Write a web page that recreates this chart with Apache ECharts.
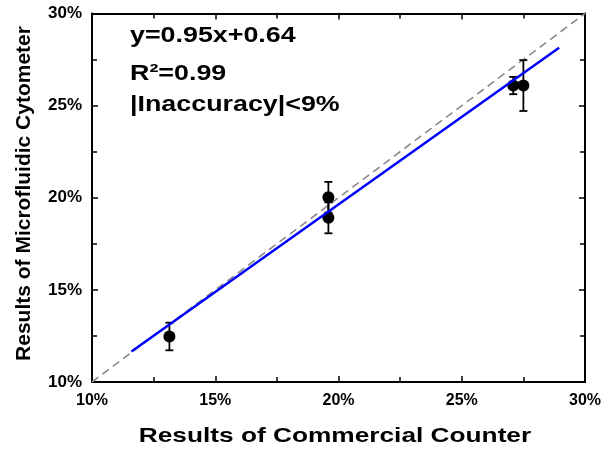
<!DOCTYPE html>
<html>
<head>
<meta charset="utf-8">
<script src="https://cdn.jsdelivr.net/npm/echarts@6/dist/echarts.min.js"></script>
<style>
  html, body { margin: 0; padding: 0; background: #fff; }
  #chart { width: 608px; height: 450px; }
</style>
</head>
<body>
<div id="chart"></div>
<script>
// Measurements: commercial counter (x) vs microfluidic cytometer (y), in percent
const counterValues   = [13.14, 19.59, 19.59, 27.09, 27.50];
const cytometerValues = [12.47, 18.91, 20.03, 26.09, 26.09];
const cytometerErrors = [0.75, 0.84, 0.83, 0.47, 1.38];

// Linear fit y = slope * x + intercept, drawn over this x range
const fitSlope = 0.95;
const fitIntercept = 0.64;
const fitRange = [11.6, 28.95];

// Identity reference line y = x
const identityLine = [[10, 10], [30, 30]];

const axisTicks = [10, 15, 20, 25, 30];
const annotationLines = ['y=0.95x+0.64', 'R\u00B2=0.99', '|Inaccuracy|<9%'];
const xTitle = 'Results of Commercial Counter';
const yTitle = 'Results of Microfluidic Cytometer';

const FONT = '"Liberation Sans", Arial, sans-serif';

const points = counterValues.map((x, i) => [x, cytometerValues[i]]);
const errorData = counterValues.map((x, i) => [x, cytometerValues[i] - cytometerErrors[i], cytometerValues[i] + cytometerErrors[i]]);
const fitData = fitRange.map(x => [x, fitSlope * x + fitIntercept]);

const chart = echarts.init(document.getElementById('chart'), null, { renderer: 'canvas' });

const axisCommon = {
  type: 'value',
  min: axisTicks[0],
  max: axisTicks[axisTicks.length - 1],
  interval: 5,
  axisLine: { show: true, onZero: false, lineStyle: { color: '#000', width: 2 } },
  axisTick: { show: true, inside: true, length: 6, lineStyle: { color: '#000', width: 1.5 } },
  minorTick: { show: true, splitNumber: 2, length: 5, lineStyle: { color: '#000', width: 1.5 } },
  splitLine: { show: false }
};

function labelStyle(size, margin) {
  return {
    color: '#000',
    fontFamily: FONT,
    fontWeight: 'bold',
    fontSize: size,
    margin: margin,
    formatter: '{value}%'
  };
}

chart.setOption({
  animation: false,
  backgroundColor: '#fff',
  grid: { left: 92, right: 23, top: 13.5, bottom: 68, containLabel: false },
  xAxis: [
    Object.assign({}, axisCommon, { position: 'bottom', axisLabel: labelStyle(16, 11) }),
    Object.assign({}, axisCommon, { position: 'top', axisLabel: { show: false } })
  ],
  yAxis: [
    Object.assign({}, axisCommon, { position: 'left', axisLabel: labelStyle(17, 10) }),
    Object.assign({}, axisCommon, { position: 'right', axisLabel: { show: false } })
  ],
  series: [
    {
      type: 'line',
      data: identityLine,
      symbol: 'none',
      z: 1,
      lineStyle: { color: '#8a8a8a', width: 1.6, type: [8, 5] }
    },
    {
      type: 'custom',
      data: errorData,
      z: 2,
      renderItem: function (params, api) {
        const top = api.coord([api.value(0), api.value(2)]);
        const bot = api.coord([api.value(0), api.value(1)]);
        const cap = 4;
        const style = { stroke: '#000', lineWidth: 1.8, fill: null };
        return {
          type: 'group',
          children: [
            { type: 'line', shape: { x1: top[0], y1: top[1], x2: bot[0], y2: bot[1] }, style: style },
            { type: 'line', shape: { x1: top[0] - cap, y1: top[1], x2: top[0] + cap, y2: top[1] }, style: style },
            { type: 'line', shape: { x1: bot[0] - cap, y1: bot[1], x2: bot[0] + cap, y2: bot[1] }, style: style }
          ]
        };
      }
    },
    {
      type: 'scatter',
      data: points,
      symbol: 'circle',
      symbolSize: 12,
      z: 3,
      itemStyle: { color: '#000', opacity: 1 }
    },
    {
      type: 'line',
      data: fitData,
      symbol: 'none',
      z: 4,
      lineStyle: { color: '#0000ff', width: 2.5 }
    }
  ],
  graphic: [
    {
      type: 'text', x: 130, y: 35.5, scaleX: 1.22,
      style: { text: annotationLines[0], fontFamily: FONT, fontWeight: 'bold', fontSize: 22, fill: '#000', textAlign: 'left', textVerticalAlign: 'middle' }
    },
    {
      type: 'text', x: 130, y: 73.5, scaleX: 1.22,
      style: { text: annotationLines[1], fontFamily: FONT, fontWeight: 'bold', fontSize: 22, fill: '#000', textAlign: 'left', textVerticalAlign: 'middle' }
    },
    {
      type: 'text', x: 130, y: 104.5, scaleX: 1.22,
      style: { text: annotationLines[2], fontFamily: FONT, fontWeight: 'bold', fontSize: 22, fill: '#000', textAlign: 'left', textVerticalAlign: 'middle' }
    },
    {
      type: 'text', x: 335, y: 436, scaleX: 1.25,
      style: { text: xTitle, fontFamily: FONT, fontWeight: 'bold', fontSize: 21, fill: '#000', textAlign: 'center', textVerticalAlign: 'middle' }
    },
    {
      type: 'text', x: 24, y: 193.5, rotation: Math.PI / 2,
      style: { text: yTitle, fontFamily: FONT, fontWeight: 'bold', fontSize: 21, fill: '#000', textAlign: 'center', textVerticalAlign: 'middle' }
    }
  ]
});
</script>
</body>
</html>
